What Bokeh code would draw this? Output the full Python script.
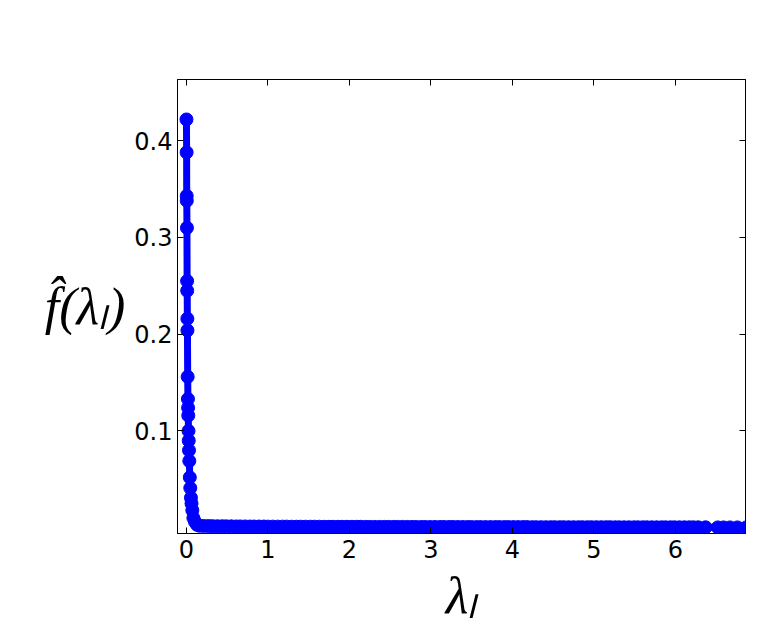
from bokeh.plotting import figure
from bokeh.models import Range1d, FixedTicker, LinearAxis, CustomJSTickFormatter, ColumnDataSource
from bokeh.embed import file_html
from bokeh.resources import INLINE

# ---- data ----
# steep part near lambda = 0
spike_lambda = [0.000, 0.002, 0.003, 0.004, 0.006, 0.008, 0.009, 0.011, 0.012, 0.015,
                0.018, 0.020, 0.022, 0.025, 0.028, 0.031, 0.035, 0.041, 0.047, 0.055,
                0.062, 0.072, 0.085, 0.105, 0.130]
spike_fhat = [0.422, 0.388, 0.343, 0.338, 0.310, 0.255, 0.245, 0.216, 0.204, 0.156,
              0.133, 0.124, 0.116, 0.100, 0.090, 0.080, 0.069, 0.052, 0.041, 0.031,
              0.025, 0.018, 0.010, 0.006, 0.003]
# flat tail
tail_lambda = [0.16, 0.21, 0.27, 0.32, 0.38, 0.44, 0.49, 0.55, 0.61, 0.66,
               0.72, 0.78, 0.83, 0.89, 0.95, 1.00, 1.06, 1.12, 1.18, 1.23,
               1.29, 1.35, 1.40, 1.46, 1.52, 1.57, 1.63, 1.69, 1.75, 1.80,
               1.86, 1.91, 1.97, 2.03, 2.09, 2.14, 2.20, 2.25, 2.31, 2.37,
               2.43, 2.48, 2.54, 2.59, 2.65, 2.71, 2.77, 2.82, 2.88, 2.93,
               2.99, 3.05, 3.11, 3.16, 3.22, 3.27, 3.33, 3.39, 3.45, 3.50,
               3.56, 3.61, 3.67, 3.73, 3.79, 3.84, 3.90, 3.95, 4.01, 4.07,
               4.13, 4.18, 4.24, 4.29, 4.35, 4.41, 4.47, 4.52, 4.58, 4.63,
               4.69, 4.75, 4.81, 4.86, 4.92, 4.97, 5.03, 5.09, 5.15, 5.20,
               5.26, 5.31, 5.37, 5.43, 5.49, 5.54, 5.60, 5.65, 5.71, 5.77,
               5.83, 5.88, 5.94, 5.99, 6.05, 6.11, 6.17, 6.22, 6.28, 6.37,
               6.52, 6.59, 6.67, 6.76, 6.87]
tail_fhat = [0.0020, 0.0018, 0.0017, 0.0016, 0.0015, 0.0015, 0.0014, 0.0014, 0.0013, 0.0013,
             0.0013, 0.0012, 0.0012, 0.0012, 0.0012, 0.0011, 0.0011, 0.0011, 0.0011, 0.0011,
             0.0010, 0.0010, 0.0010, 0.0010, 0.0010, 0.0010, 0.0010, 0.0009, 0.0009, 0.0009,
             0.0009, 0.0009, 0.0009, 0.0009, 0.0009, 0.0009, 0.0008, 0.0008, 0.0008, 0.0008,
             0.0008, 0.0008, 0.0008, 0.0008, 0.0008, 0.0008, 0.0008, 0.0007, 0.0007, 0.0007,
             0.0007, 0.0007, 0.0007, 0.0007, 0.0007, 0.0007, 0.0007, 0.0007, 0.0007, 0.0006,
             0.0006, 0.0006, 0.0006, 0.0006, 0.0006, 0.0006, 0.0006, 0.0006, 0.0006, 0.0006,
             0.0006, 0.0006, 0.0005, 0.0005, 0.0005, 0.0005, 0.0005, 0.0005, 0.0005, 0.0005,
             0.0005, 0.0005, 0.0005, 0.0005, 0.0005, 0.0005, 0.0005, 0.0005, 0.0005, 0.0005,
             0.0004, 0.0004, 0.0004, 0.0004, 0.0004, 0.0004, 0.0004, 0.0004, 0.0004, 0.0004,
             0.0004, 0.0004, 0.0004, 0.0004, 0.0004, 0.0004, 0.0004, 0.0004, 0.0004, 0.0004,
             0.0003, 0.0003, 0.0003, 0.0003, 0.0003]

x_ticks = [0, 1, 2, 3, 4, 5, 6]
y_ticks = [0.1, 0.2, 0.3, 0.4]

src = ColumnDataSource(dict(lam=spike_lambda + tail_lambda, fhat=spike_fhat + tail_fhat))

BLUE = "#0000ff"

p = figure(frame_width=568, frame_height=454,
           x_range=Range1d(-0.11, 6.86), y_range=Range1d(-0.006, 0.4633),
           output_backend="svg", toolbar_location=None,
           min_border_left=177, min_border_top=79, min_border_right=8, min_border_bottom=88,
           background_fill_color="white", border_fill_color="white")

p.line("lam", "fhat", source=src, line_width=7, line_color=BLUE)
p.scatter("lam", "fhat", source=src, size=13, fill_color=BLUE, line_color=BLUE)

p.xgrid.visible = False
p.ygrid.visible = False
p.outline_line_color = "black"
p.outline_line_width = 1

TICK_FONT = "DejaVu Sans"

for ax in (p.xaxis[0], p.yaxis[0]):
    ax.major_tick_in = 6
    ax.major_tick_out = 0
    ax.minor_tick_line_color = None
    ax.axis_line_color = "black"
    ax.major_tick_line_color = "black"
    ax.major_label_text_font = TICK_FONT
    ax.major_label_text_font_size = "24px"
    ax.major_label_text_color = "black"
    ax.axis_label_text_font = "Liberation Serif"
    ax.axis_label_text_font_style = "italic"
    ax.axis_label_text_font_size = "52px"
    ax.axis_label_text_color = "black"

p.xaxis[0].ticker = FixedTicker(ticks=x_ticks)
p.yaxis[0].ticker = FixedTicker(ticks=y_ticks)
p.xaxis[0].major_label_standoff = 6
p.yaxis[0].major_label_standoff = 5
p.xaxis[0].axis_label = "λₗ"
p.yaxis[0].axis_label = "f\u0302(λₗ)"
p.yaxis[0].axis_label_orientation = "horizontal"
p.xaxis[0].axis_label_standoff = 6
p.yaxis[0].axis_label_standoff = 6

blank = CustomJSTickFormatter(code="return ''")
top = LinearAxis(ticker=FixedTicker(ticks=x_ticks), formatter=blank,
                 major_tick_in=6, major_tick_out=0, minor_tick_line_color=None,
                 major_label_standoff=0, major_label_text_font_size="1px",
                 axis_line_color="black")
right = LinearAxis(ticker=FixedTicker(ticks=y_ticks), formatter=blank,
                   major_tick_in=6, major_tick_out=0, minor_tick_line_color=None,
                   major_label_standoff=0, major_label_text_font_size="1px",
                   axis_line_color="black")
p.add_layout(top, "above")
p.add_layout(right, "right")

open("out.html", "w").write(file_html(p, INLINE))
